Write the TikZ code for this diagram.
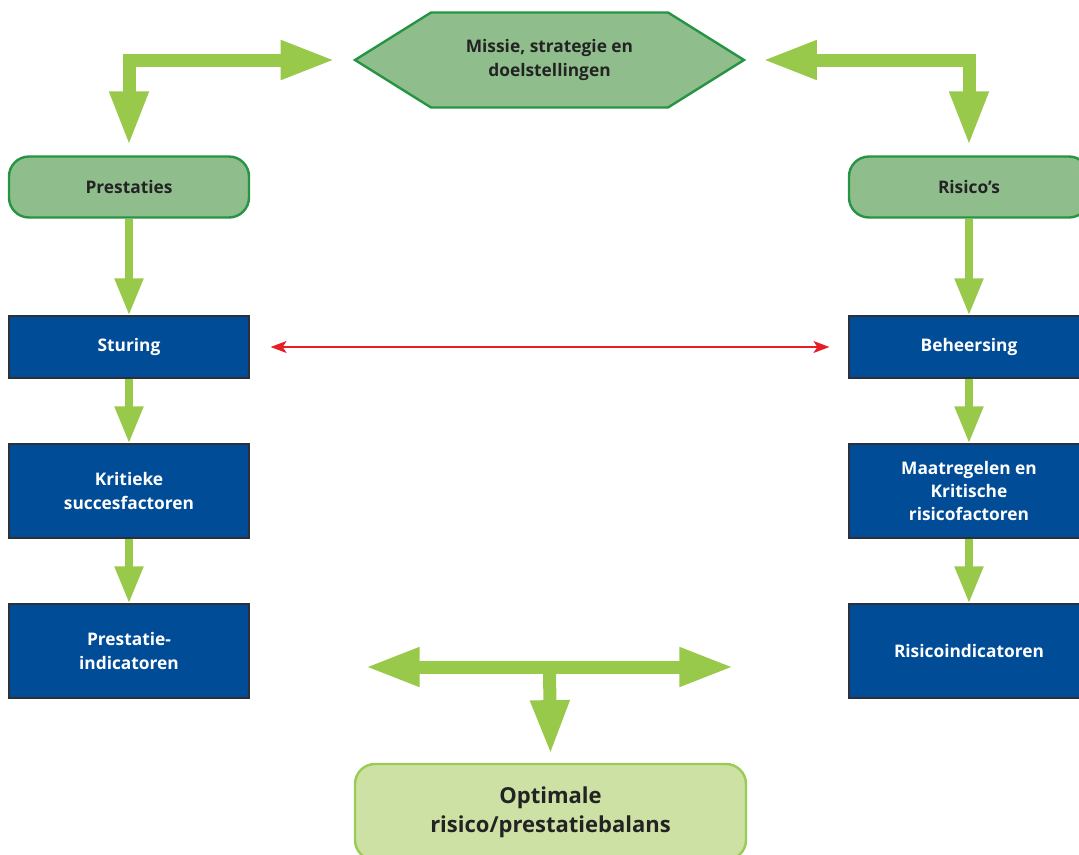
\documentclass[tikz,border=0pt]{standalone}
\usepackage{fontspec}
\setmainfont{Open Sans}
\usetikzlibrary{arrows.meta,shapes.symbols}

\definecolor{arrowgreen}{RGB}{152,201,74}
\definecolor{hexfill}{RGB}{143,190,140}
\definecolor{hexline}{RGB}{38,148,68}
\definecolor{boxblue}{RGB}{0,76,151}
\definecolor{boxline}{RGB}{45,48,58}
\definecolor{optfill}{RGB}{204,225,163}
\definecolor{optline}{RGB}{153,204,85}
\definecolor{linkred}{RGB}{230,30,40}
\definecolor{textdark}{RGB}{35,35,35}

\tikzset{
  bighead/.tip={Triangle[length=41pt,width=27pt]},
  smallhead/.tip={Triangle[length=27.75pt,width=20.25pt]},
  redhead/.tip={Stealth[length=12pt,width=9pt,inset=3pt]},
  goalbox/.style={shape=signal, signal to=west and east,
    signal pointer angle=64, draw=hexline, line width=1.8pt,
    fill=hexfill, minimum width=291.75pt, minimum height=71.25pt,
    inner sep=0pt, text=textdark, align=center,
    font=\bfseries\fontsize{13}{18}\selectfont},
  greenbox/.style={draw=hexline, line width=1.8pt, fill=hexfill,
    rounded corners=15pt, minimum width=180pt, minimum height=45.75pt,
    text=textdark, font=\bfseries\fontsize{13}{18}\selectfont},
  bluebox/.style={draw=boxline, line width=0.9pt, fill=boxblue,
    minimum width=180pt, text=white, align=center,
    font=\bfseries\fontsize{13}{17.5}\selectfont},
  optbox/.style={draw=optline, line width=1.8pt, fill=optfill,
    rounded corners=15pt, minimum width=293.25pt, minimum height=72pt,
    text=textdark, align=center,
    font=\bfseries\fontsize{16.5}{21.75}\selectfont},
  bigarrow/.style={draw=arrowgreen, line width=9.75pt, line join=miter},
  smallarrow/.style={draw=arrowgreen, line width=6pt, -smallhead},
  redarrow/.style={draw=linkred, line width=1.1pt, redhead-redhead}
}

\begin{document}
\begin{tikzpicture}[x=0.75pt, y=-0.75pt]

    % Page frame
    \useasboundingbox (0, 0) rectangle (1079, 854);
    \clip (0, 0) rectangle (1079, 854);

    % Draw top shape
    \node[goalbox] (goal) at (549.5, 60)
      {Missie, strategie en\\doelstellingen};

    % Draw left column
    \node[greenbox] (prest) at (129, 187) {Prestaties};
    \node[bluebox, minimum height=46.5pt] (stur) at (129, 347) {Sturing};
    \node[bluebox, minimum height=70.5pt] (ksf) at (129, 491)
      {Kritieke\\succesfactoren};
    \node[bluebox, minimum height=70.5pt] (pi) at (129, 651)
      {Prestatie-\\indicatoren};

    % Draw right column
    \node[greenbox] (risk) at (969, 187) {Risico’s};
    \node[bluebox, minimum height=46.5pt] (beh) at (969, 347) {Beheersing};
    \node[bluebox, minimum height=70.5pt] (krf) at (969, 491)
      {Maatregelen en\\Kritische\\risicofactoren};
    \node[bluebox, minimum height=70.5pt] (ri) at (969, 651)
      {Risicoindicatoren};

    % Draw bottom box
    \node[optbox] (opt) at (550.5, 812)
      {Optimale\\risico/prestatiebalans};

    % Draw top arrows
    \draw[bigarrow, bighead-bighead] ([xshift=-13pt]goal.west)
      -| ([yshift=7pt]prest.north);
    \draw[bigarrow, bighead-bighead] ([xshift=12pt]goal.east)
      -| ([yshift=7pt]risk.north);

    % Draw column arrows
    \draw[smallarrow] (prest.south) -- (stur.north);
    \draw[smallarrow] (stur.south) -- (ksf.north);
    \draw[smallarrow] (ksf.south) -- (pi.north);
    \draw[smallarrow] (risk.south) -- (beh.north);
    \draw[smallarrow] (beh.south) -- (krf.north);
    \draw[smallarrow] (krf.south) -- (ri.north);

    % Draw link between Sturing and Beheersing
    \draw[redarrow, shorten <=15.75pt, shorten >=14.25pt]
      (stur.east) -- (beh.west);

    % Draw balance arrows
    \coordinate (balL) at (365, 667);
    \coordinate (balR) at (734, 667);
    \coordinate (balM) at (549.5, 667);
    \draw[bigarrow, bighead-bighead] (balL) -- (balR);
    \draw[bigarrow, -bighead] (balM) -- ([yshift=6pt]opt.north);

  \end{tikzpicture}
\end{document}
